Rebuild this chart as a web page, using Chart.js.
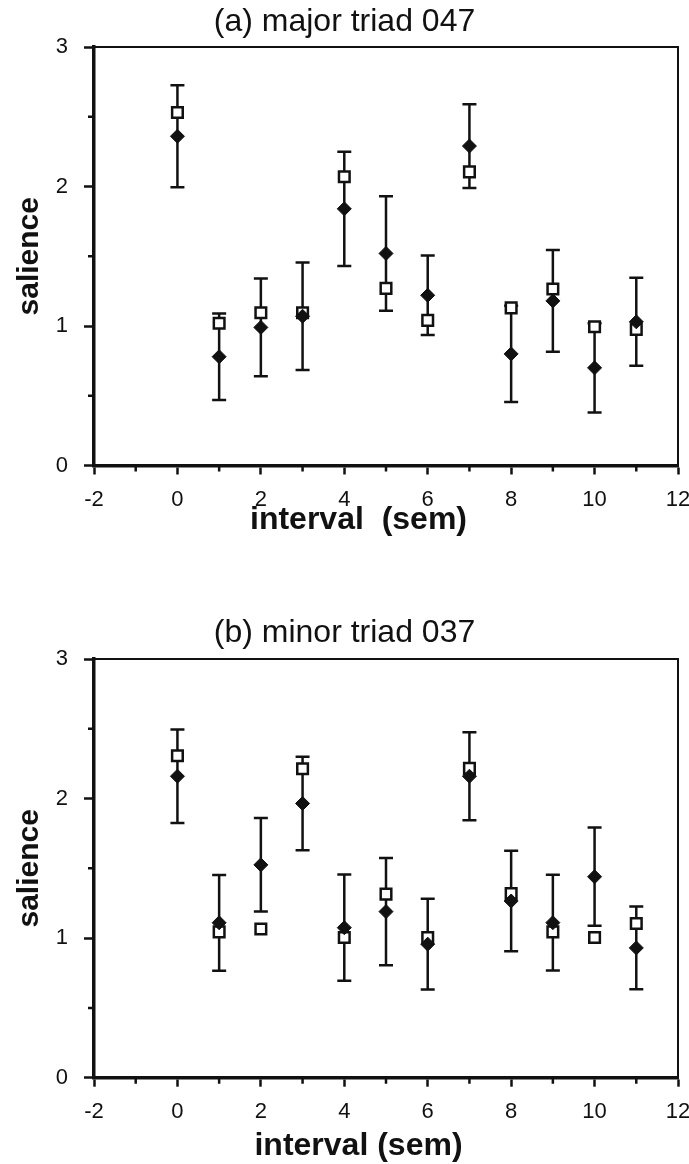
<!DOCTYPE html>
<html>
<head>
<meta charset="utf-8">
<script src="https://cdn.jsdelivr.net/npm/chart.js@4.4.1/dist/chart.umd.min.js"></script>
<style>
  body { margin: 0; background: #fff; }
  .panel { position: absolute; left: 0; width: 689px; height: 582px; }
</style>
</head>
<body>
<div class="panel" style="top:0"><canvas id="chartA" width="689" height="582"></canvas></div>
<div class="panel" style="top:582px"><canvas id="chartB" width="689" height="582"></canvas></div>
<script>
// interval in semitones
const intervals = [0, 1, 2, 3, 4, 5, 6, 7, 8, 9, 10, 11];

// (a) major triad 047
const meanA  = [2.36, 0.78, 0.99, 1.07, 1.84, 1.52, 1.22, 2.29, 0.80, 1.18, 0.70, 1.03];
const errA   = [0.365, 0.31, 0.35, 0.385, 0.41, 0.41, 0.285, 0.30, 0.345, 0.365, 0.32, 0.315];
const modelA = [2.53, 1.02, 1.095, 1.095, 2.07, 1.27, 1.04, 2.105, 1.13, 1.265, 0.995, 0.976];

// (b) minor triad 037
const meanB  = [2.16, 1.11, 1.525, 1.965, 1.075, 1.19, 0.957, 2.16, 1.266, 1.111, 1.44, 0.93];
const errB   = [0.335, 0.343, 0.335, 0.335, 0.381, 0.385, 0.325, 0.315, 0.36, 0.343, 0.352, 0.296];
const modelB = [2.307, 1.045, 1.065, 2.214, 1.005, 1.315, 1.005, 2.216, 1.32, 1.045, 1.005, 1.105];

const FONT = "'Liberation Sans', Arial, Helvetica, sans-serif";
const INK = '#111';

function toPoints(xs, ys) {
    return xs.map((x, i) => ({x: x, y: ys[i]}));
}

// vertical error bars with caps, drawn under the markers
const errorBars = {
    id: 'errorBars',
    beforeDatasetsDraw(chart) {
        const ctx = chart.ctx;
        const xs = chart.scales.x, ys = chart.scales.y;
        chart.data.datasets.forEach(ds => {
            if (!ds.errors) return;
            ctx.save();
            ctx.strokeStyle = INK;
            ctx.lineWidth = 2.5;
            ds.data.forEach((p, i) => {
                const px = xs.getPixelForValue(p.x);
                const top = ys.getPixelForValue(p.y + ds.errors[i]);
                const bot = ys.getPixelForValue(p.y - ds.errors[i]);
                ctx.beginPath();
                ctx.moveTo(px, top); ctx.lineTo(px, bot);
                ctx.moveTo(px - 7, top); ctx.lineTo(px + 7, top);
                ctx.moveTo(px - 7, bot); ctx.lineTo(px + 7, bot);
                ctx.stroke();
            });
            ctx.restore();
        });
    }
};

// box frame, minor ticks and x axis title
const frame = {
    id: 'frame',
    afterDraw(chart, args, opts) {
        const {ctx, chartArea: a} = chart;
        const xs = chart.scales.x, ys = chart.scales.y;
        ctx.save();
        ctx.strokeStyle = INK;
        ctx.lineWidth = 2;
        ctx.beginPath();
        ctx.moveTo(a.left, a.top); ctx.lineTo(a.right, a.top); ctx.lineTo(a.right, a.bottom + 1);
        ctx.stroke();

        ctx.lineWidth = 2.5;
        ctx.beginPath();
        for (let v = xs.min + 1; v < xs.max; v += 2) {
            const px = xs.getPixelForValue(v);
            ctx.moveTo(px, a.bottom); ctx.lineTo(px, a.bottom + 6);
        }
        for (let v = ys.min + 0.5; v < ys.max; v += 1) {
            const py = ys.getPixelForValue(v);
            ctx.moveTo(a.left, py); ctx.lineTo(a.left - 6, py);
        }
        ctx.stroke();

        ctx.fillStyle = INK;
        ctx.font = 'bold 32px ' + FONT;
        ctx.textAlign = 'center';
        ctx.textBaseline = 'middle';
        ctx.fillText(opts.text, chart.width / 2 + 14, a.bottom + opts.offset);
        ctx.restore();
    }
};

function makeChart(id, title, titlePad, mean, err, model, xTitle, xTitleOffset, xAxisHeight) {
    const ctx = document.getElementById(id);
    return new Chart(ctx, {
        type: 'scatter',
        data: {
            datasets: [{
                label: 'data',
                data: toPoints(intervals, mean),
                errors: err,
                pointStyle: 'rectRot',
                pointRadius: 7,
                backgroundColor: INK,
                borderColor: INK,
                borderWidth: 1
            }, {
                label: 'model',
                data: toPoints(intervals, model),
                pointStyle: 'rect',
                pointRadius: 7.5,
                backgroundColor: '#fff',
                borderColor: INK,
                borderWidth: 2.5
            }]
        },
        options: {
            responsive: false,
            animation: false,
            layout: { padding: { left: 0, right: 0, top: 0, bottom: 0 } },
            plugins: {
                legend: { display: false },
                tooltip: { enabled: false },
                title: {
                    display: true,
                    text: title,
                    color: INK,
                    font: { family: FONT, size: 32, weight: 'normal' },
                    padding: titlePad
                },
                frame: { text: xTitle, offset: xTitleOffset }
            },
            scales: {
                x: {
                    type: 'linear',
                    min: -2,
                    max: 12,
                    afterFit(scale) {
                        scale.height = xAxisHeight;
                        scale.paddingRight = 11;
                    },
                    border: { display: true, width: 3.5, color: INK },
                    grid: { drawOnChartArea: false, drawTicks: true, tickLength: 9, tickWidth: 2.5, tickColor: INK },
                    ticks: { stepSize: 2, autoSkip: false, maxRotation: 0, padding: 12, color: INK, font: { family: FONT, size: 22 } }
                },
                y: {
                    min: 0,
                    max: 3,
                    afterFit(scale) { scale.width = 94; },
                    border: { display: true, width: 3.5, color: INK },
                    grid: { drawOnChartArea: false, drawTicks: true, tickLength: 10, tickWidth: 2.5, tickColor: INK },
                    ticks: { stepSize: 1, padding: 16, color: INK, font: { family: FONT, size: 22 } },
                    title: {
                        display: true,
                        text: 'salience',
                        color: INK,
                        font: { family: FONT, size: 30, weight: 'bold' },
                        padding: { top: 12, bottom: 0 }
                    }
                }
            }
        },
        plugins: [errorBars, frame]
    });
}

makeChart('chartA', '(a) major triad 047', { top: 3, bottom: 5.6 }, meanA, errA, modelA, 'interval  (sem)', 55, 116.5);
makeChart('chartB', '(b) minor triad 037', { top: 32, bottom: 6.6 }, meanB, errB, modelB, 'interval (sem)', 68, 86.3);
</script>
</body>
</html>
